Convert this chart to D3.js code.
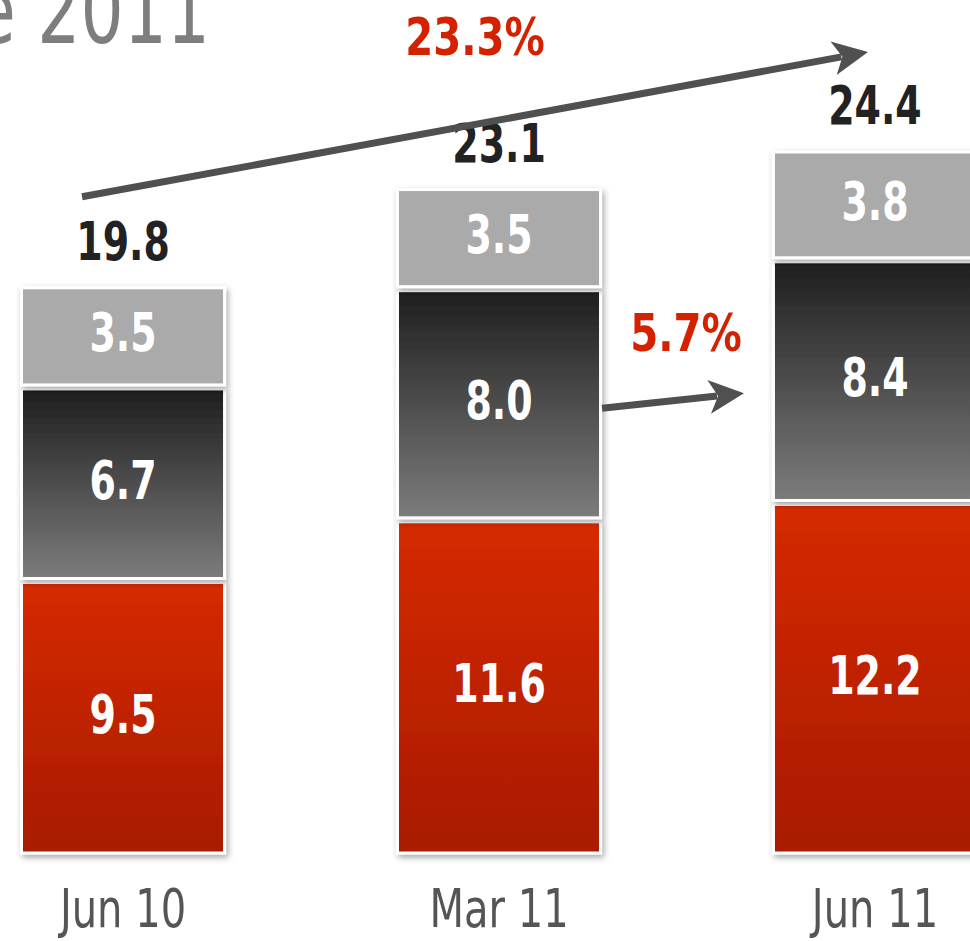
<!DOCTYPE html>
<html>
<head>
<meta charset="utf-8">
<script src="https://cdn.jsdelivr.net/npm/d3@7"></script>
<style>
  html, body { margin: 0; padding: 0; background: #fff; overflow: hidden; }
  svg { display: block; }
  text { font-family: 'DejaVu Sans Condensed', 'Liberation Sans Narrow', 'Noto Sans', sans-serif; }
</style>
</head>
<body>
<div id="chart"></div>
<script>
// ---- data ----
var categories = ['Jun 10', 'Mar 11', 'Jun 11'];
var bottomSeries = [9.5, 11.6, 12.2];   // red
var middleSeries = [6.7, 8.0, 8.4];     // dark gray
var topSeries = [3.5, 3.5, 3.8];        // light gray
var totals = [19.8, 23.1, 24.4];
var growthLabels = ['23.3%', '5.7%'];
var titleText = 'e 2011';

var W = 970, H = 941;
var baseY = 855;

var rows = categories.map(function(c, i) {
  return { cat: c, bottom: bottomSeries[i], middle: middleSeries[i], top: topSeries[i], total: totals[i] };
});
var keys = ['bottom', 'middle', 'top'];
var stacked = d3.stack().keys(keys)(rows);

var svg = d3.select('#chart').append('svg')
  .attr('width', W).attr('height', H);

var defs = svg.append('defs');

// drop shadow on the segments
var f = defs.append('filter').attr('id', 'shadow')
  .attr('x', '-10%').attr('y', '-10%').attr('width', '130%').attr('height', '130%');
f.append('feDropShadow')
  .attr('dx', 2).attr('dy', 3).attr('stdDeviation', 3)
  .attr('flood-color', '#000').attr('flood-opacity', 0.35);

function vGrad(id, c1, c2) {
  var g = defs.append('linearGradient').attr('id', id)
    .attr('x1', 0).attr('y1', 0).attr('x2', 0).attr('y2', 1);
  g.append('stop').attr('offset', '0%').attr('stop-color', c1);
  g.append('stop').attr('offset', '100%').attr('stop-color', c2);
}
vGrad('gRed', '#d62a00', '#a81a00');
vGrad('gDark', '#1e1e1e', '#7c7c7c');

var fills = { bottom: 'url(#gRed)', middle: 'url(#gDark)', top: '#aaaaaa' };

var x = d3.scaleBand()
  .domain(categories)
  .range([20, 978])
  .paddingInner(0.452)
  .paddingOuter(0);

var y = d3.scaleLinear()
  .domain([0, 24.4])
  .range([baseY, 150]);

// the fonts here are wider than the condensed face of the original,
// so squeeze text horizontally around its anchor
function squeeze(sx, fx, fy) {
  return function(d, i) {
    return 'translate(' + fx(d, i) + ',' + fy(d, i) + ') scale(' + sx + ',1)';
  };
}

// title fragment (cut off at top-left)
svg.append('text')
  .attr('transform', 'translate(210,43) scale(0.82,1)')
  .attr('text-anchor', 'end')
  .attr('fill', '#7e7e7e')
  .attr('font-size', 92)
  .text(titleText);

// bars
stacked.forEach(function(layer) {
  var k = layer.key;
  svg.append('g').selectAll('rect')
    .data(layer)
    .join('rect')
    .attr('x', function(d) { return x(d.data.cat) + 1.5; })
    .attr('y', function(d) { return y(d[1]) + 2; })
    .attr('width', x.bandwidth() - 3)
    .attr('height', function(d) { return y(d[0]) - y(d[1]) - 4; })
    .attr('fill', fills[k])
    .attr('stroke', '#ffffff')
    .attr('stroke-width', 3)
    .attr('filter', 'url(#shadow)');

  // value labels inside segments
  svg.append('g').selectAll('text')
    .data(layer)
    .join('text')
    .attr('transform', squeeze(0.78,
      function(d) { return x(d.data.cat) + x.bandwidth() / 2; },
      function(d) { return (y(d[0]) + y(d[1])) / 2 + 15; }))
    .attr('text-anchor', 'middle')
    .attr('fill', '#ffffff')
    .attr('font-weight', 700)
    .attr('font-size', 54)
    .text(function(d) { return d.data[k].toFixed(1); });
});

// totals above bars
var topLayer = stacked[stacked.length - 1];
svg.append('g').selectAll('text')
  .data(topLayer)
  .join('text')
  .attr('transform', squeeze(0.78,
    function(d) { return x(d.data.cat) + x.bandwidth() / 2; },
    function(d) { return y(d[1]) - 26; }))
  .attr('text-anchor', 'middle')
  .attr('fill', '#222222')
  .attr('font-weight', 700)
  .attr('font-size', 54)
  .text(function(d) { return d.data.total.toFixed(1); });

// category labels
svg.append('g').selectAll('text')
  .data(categories)
  .join('text')
  .attr('transform', squeeze(0.84,
    function(d) { return x(d) + x.bandwidth() / 2; },
    function() { return 927; }))
  .attr('text-anchor', 'middle')
  .attr('fill', '#555555')
  .attr('font-size', 53)
  .text(function(d) { return d; });

// arrows
function arrow(x1, y1, x2, y2) {
  var ang = Math.atan2(y2 - y1, x2 - x1);
  var len = 35, half = 17;
  var bx = x2 - len * Math.cos(ang), by = y2 - len * Math.sin(ang);
  var px = -Math.sin(ang), py = Math.cos(ang);
  svg.append('line')
    .attr('x1', x1).attr('y1', y1)
    .attr('x2', bx + 8 * Math.cos(ang)).attr('y2', by + 8 * Math.sin(ang))
    .attr('stroke', '#505050').attr('stroke-width', 7);
  svg.append('path')
    .attr('d', 'M' + x2 + ',' + y2 +
      'L' + (bx + half * px) + ',' + (by + half * py) +
      'L' + (bx + 9 * Math.cos(ang)) + ',' + (by + 9 * Math.sin(ang)) +
      'L' + (bx - half * px) + ',' + (by - half * py) + 'Z')
    .attr('fill', '#505050');
}

// overall growth: Jun 10 -> Jun 11
var t0 = topLayer[0], t2 = topLayer[2];
var a1y1 = y(t0[1]) - 89, a1y2 = y(t2[1]) - 98;
arrow(82, a1y1, 868, a1y2);
svg.append('text')
  .attr('transform', 'translate(475,55) scale(0.86,1)')
  .attr('text-anchor', 'middle')
  .attr('fill', '#d42200')
  .attr('font-weight', 700)
  .attr('font-size', 52)
  .text(growthLabels[0]);

// quarterly growth on the middle segment: Mar 11 -> Jun 11
var m1 = stacked[1][1], m2 = stacked[1][2];
var sy = (y(m1[0]) + y(m1[1])) / 2 + 4;
var ey = (y(m2[0]) + y(m2[1])) / 2 + 12;
arrow(x(categories[1]) + x.bandwidth(), sy, x(categories[2]) - 28, ey);
svg.append('text')
  .attr('transform', 'translate(686,' + (ey - 42) + ') scale(0.86,1)')
  .attr('text-anchor', 'middle')
  .attr('fill', '#d42200')
  .attr('font-weight', 700)
  .attr('font-size', 52)
  .text(growthLabels[1]);
</script>
</body>
</html>
